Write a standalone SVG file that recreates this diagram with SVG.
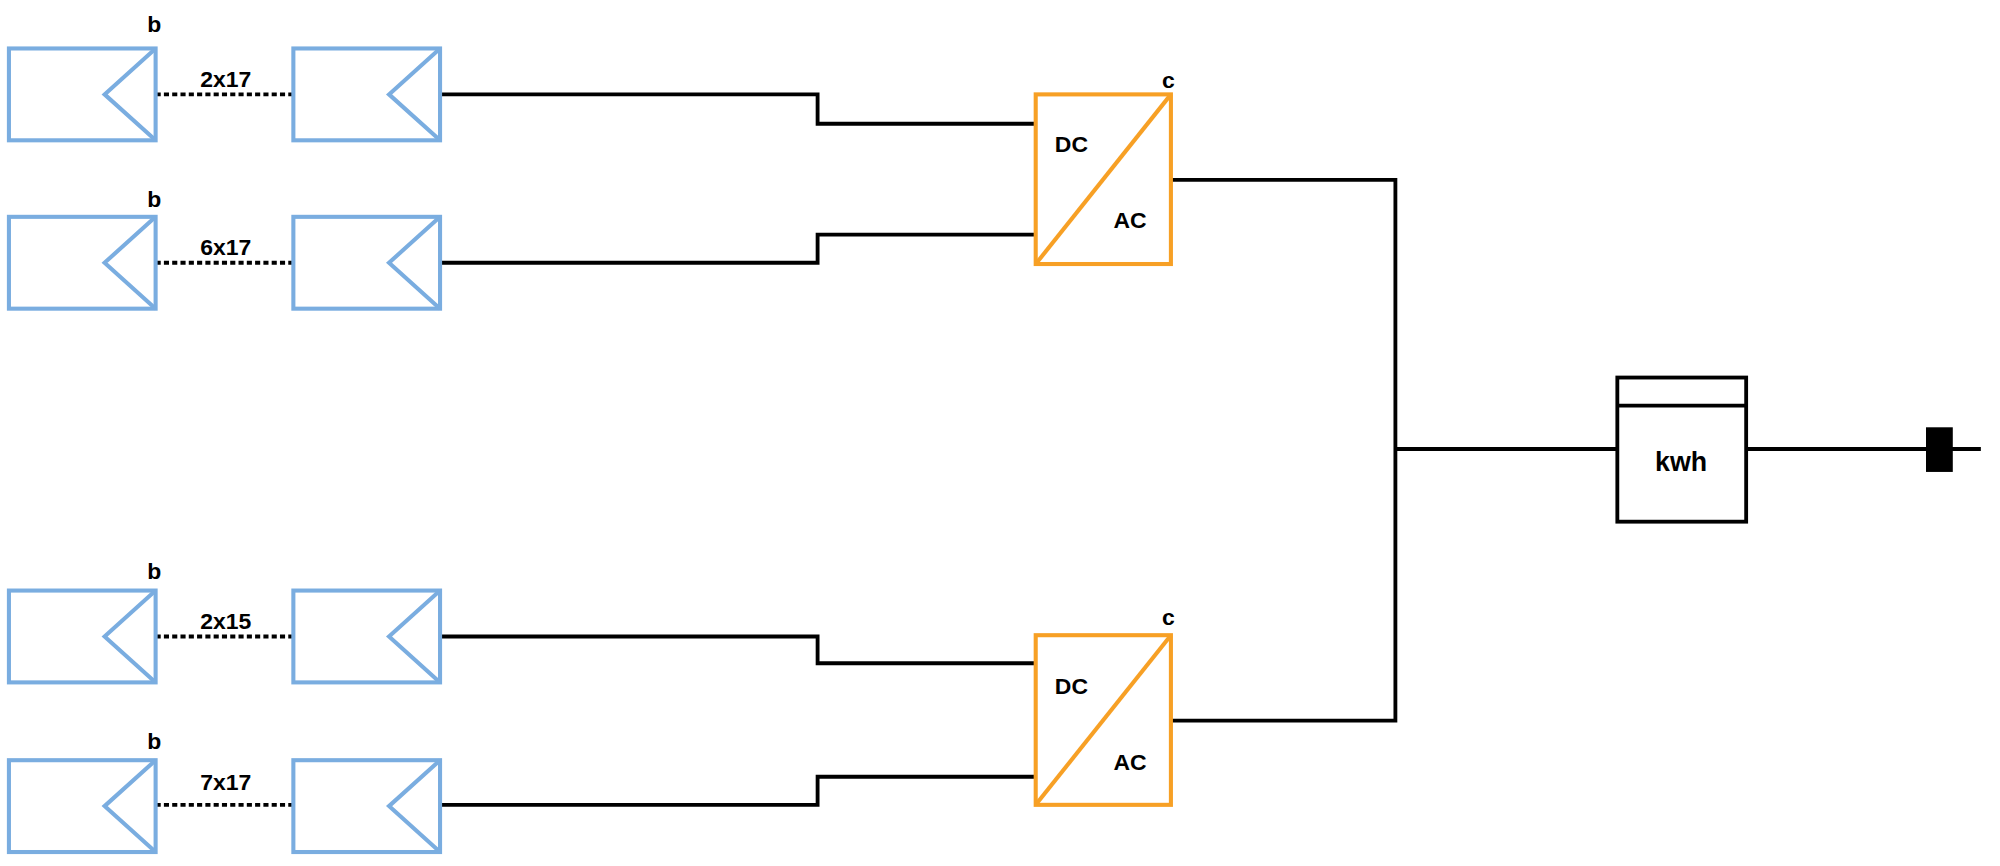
<svg xmlns="http://www.w3.org/2000/svg" width="2000" height="866" viewBox="0 0 2000 866">
<style>
.pv{fill:#fff;stroke:#7aade0;stroke-width:3.2}
.w{fill:none;stroke:#000;stroke-width:3}
.d{fill:none;stroke:#000;stroke-width:3;stroke-dasharray:4 2.5}
.inv{fill:#fff;stroke:#f7a025;stroke-width:3.2}
.t{font-family:"Liberation Sans",Arial,sans-serif;font-weight:bold;font-size:18px;fill:#000;text-anchor:middle}
</style>
<defs>
<g id="panel"><rect class="pv" x="0" y="0" width="115" height="72"/><polyline class="pv" points="115,0 75,36 115,72" style="fill:none"/></g>
</defs>
<rect width="2000" height="866" fill="#fff"/>
<g transform="scale(1.2755)">
<g id="connectors">
<path class="d" d="M122,74H229M122,206H229M122,499H229M122,631H229"/>
<path class="w" d="M345,74H641V97H812M345,206H641V184H812M345,499H641V520H812M345,631H641V609H812"/>
<path class="w" d="M918,141H1094V565H918M1094,352H1268M1369,352H1553"/>
</g>
<g id="s1"><use href="#panel" x="7" y="38"/><use href="#panel" x="230" y="38"/><text class="t" x="121" y="25">b</text><text class="t" x="177" y="68">2x17</text></g>
<g id="s2"><use href="#panel" x="7" y="170"/><use href="#panel" x="230" y="170"/><text class="t" x="121" y="162">b</text><text class="t" x="177" y="200">6x17</text></g>
<g id="s3"><use href="#panel" x="7" y="463"/><use href="#panel" x="230" y="463"/><text class="t" x="121" y="454">b</text><text class="t" x="177" y="493">2x15</text></g>
<g id="s4"><use href="#panel" x="7" y="596"/><use href="#panel" x="230" y="596"/><text class="t" x="121" y="587">b</text><text class="t" x="177" y="619">7x17</text></g>
<g id="inv1"><rect class="inv" x="812" y="74" width="106" height="133"/><line class="inv" x1="812" y1="207" x2="918" y2="74"/><text class="t" x="840" y="119">DC</text><text class="t" x="886" y="179">AC</text><text class="t" x="916" y="69">c</text></g>
<g id="inv2"><rect class="inv" x="812" y="498" width="106" height="133"/><line class="inv" x1="812" y1="631" x2="918" y2="498"/><text class="t" x="840" y="544">DC</text><text class="t" x="886" y="604">AC</text><text class="t" x="916" y="490">c</text></g>
<g id="meter"><rect fill="#fff" stroke="#000" stroke-width="3" x="1268" y="296" width="101" height="113"/><line stroke="#000" stroke-width="3" x1="1268" y1="318" x2="1369" y2="318"/><text class="t" x="1318" y="369" style="font-size:21px">kwh</text></g>
<g id="grid"><rect x="1510" y="335" width="21" height="35" fill="#000"/></g>
</g>
</svg>
